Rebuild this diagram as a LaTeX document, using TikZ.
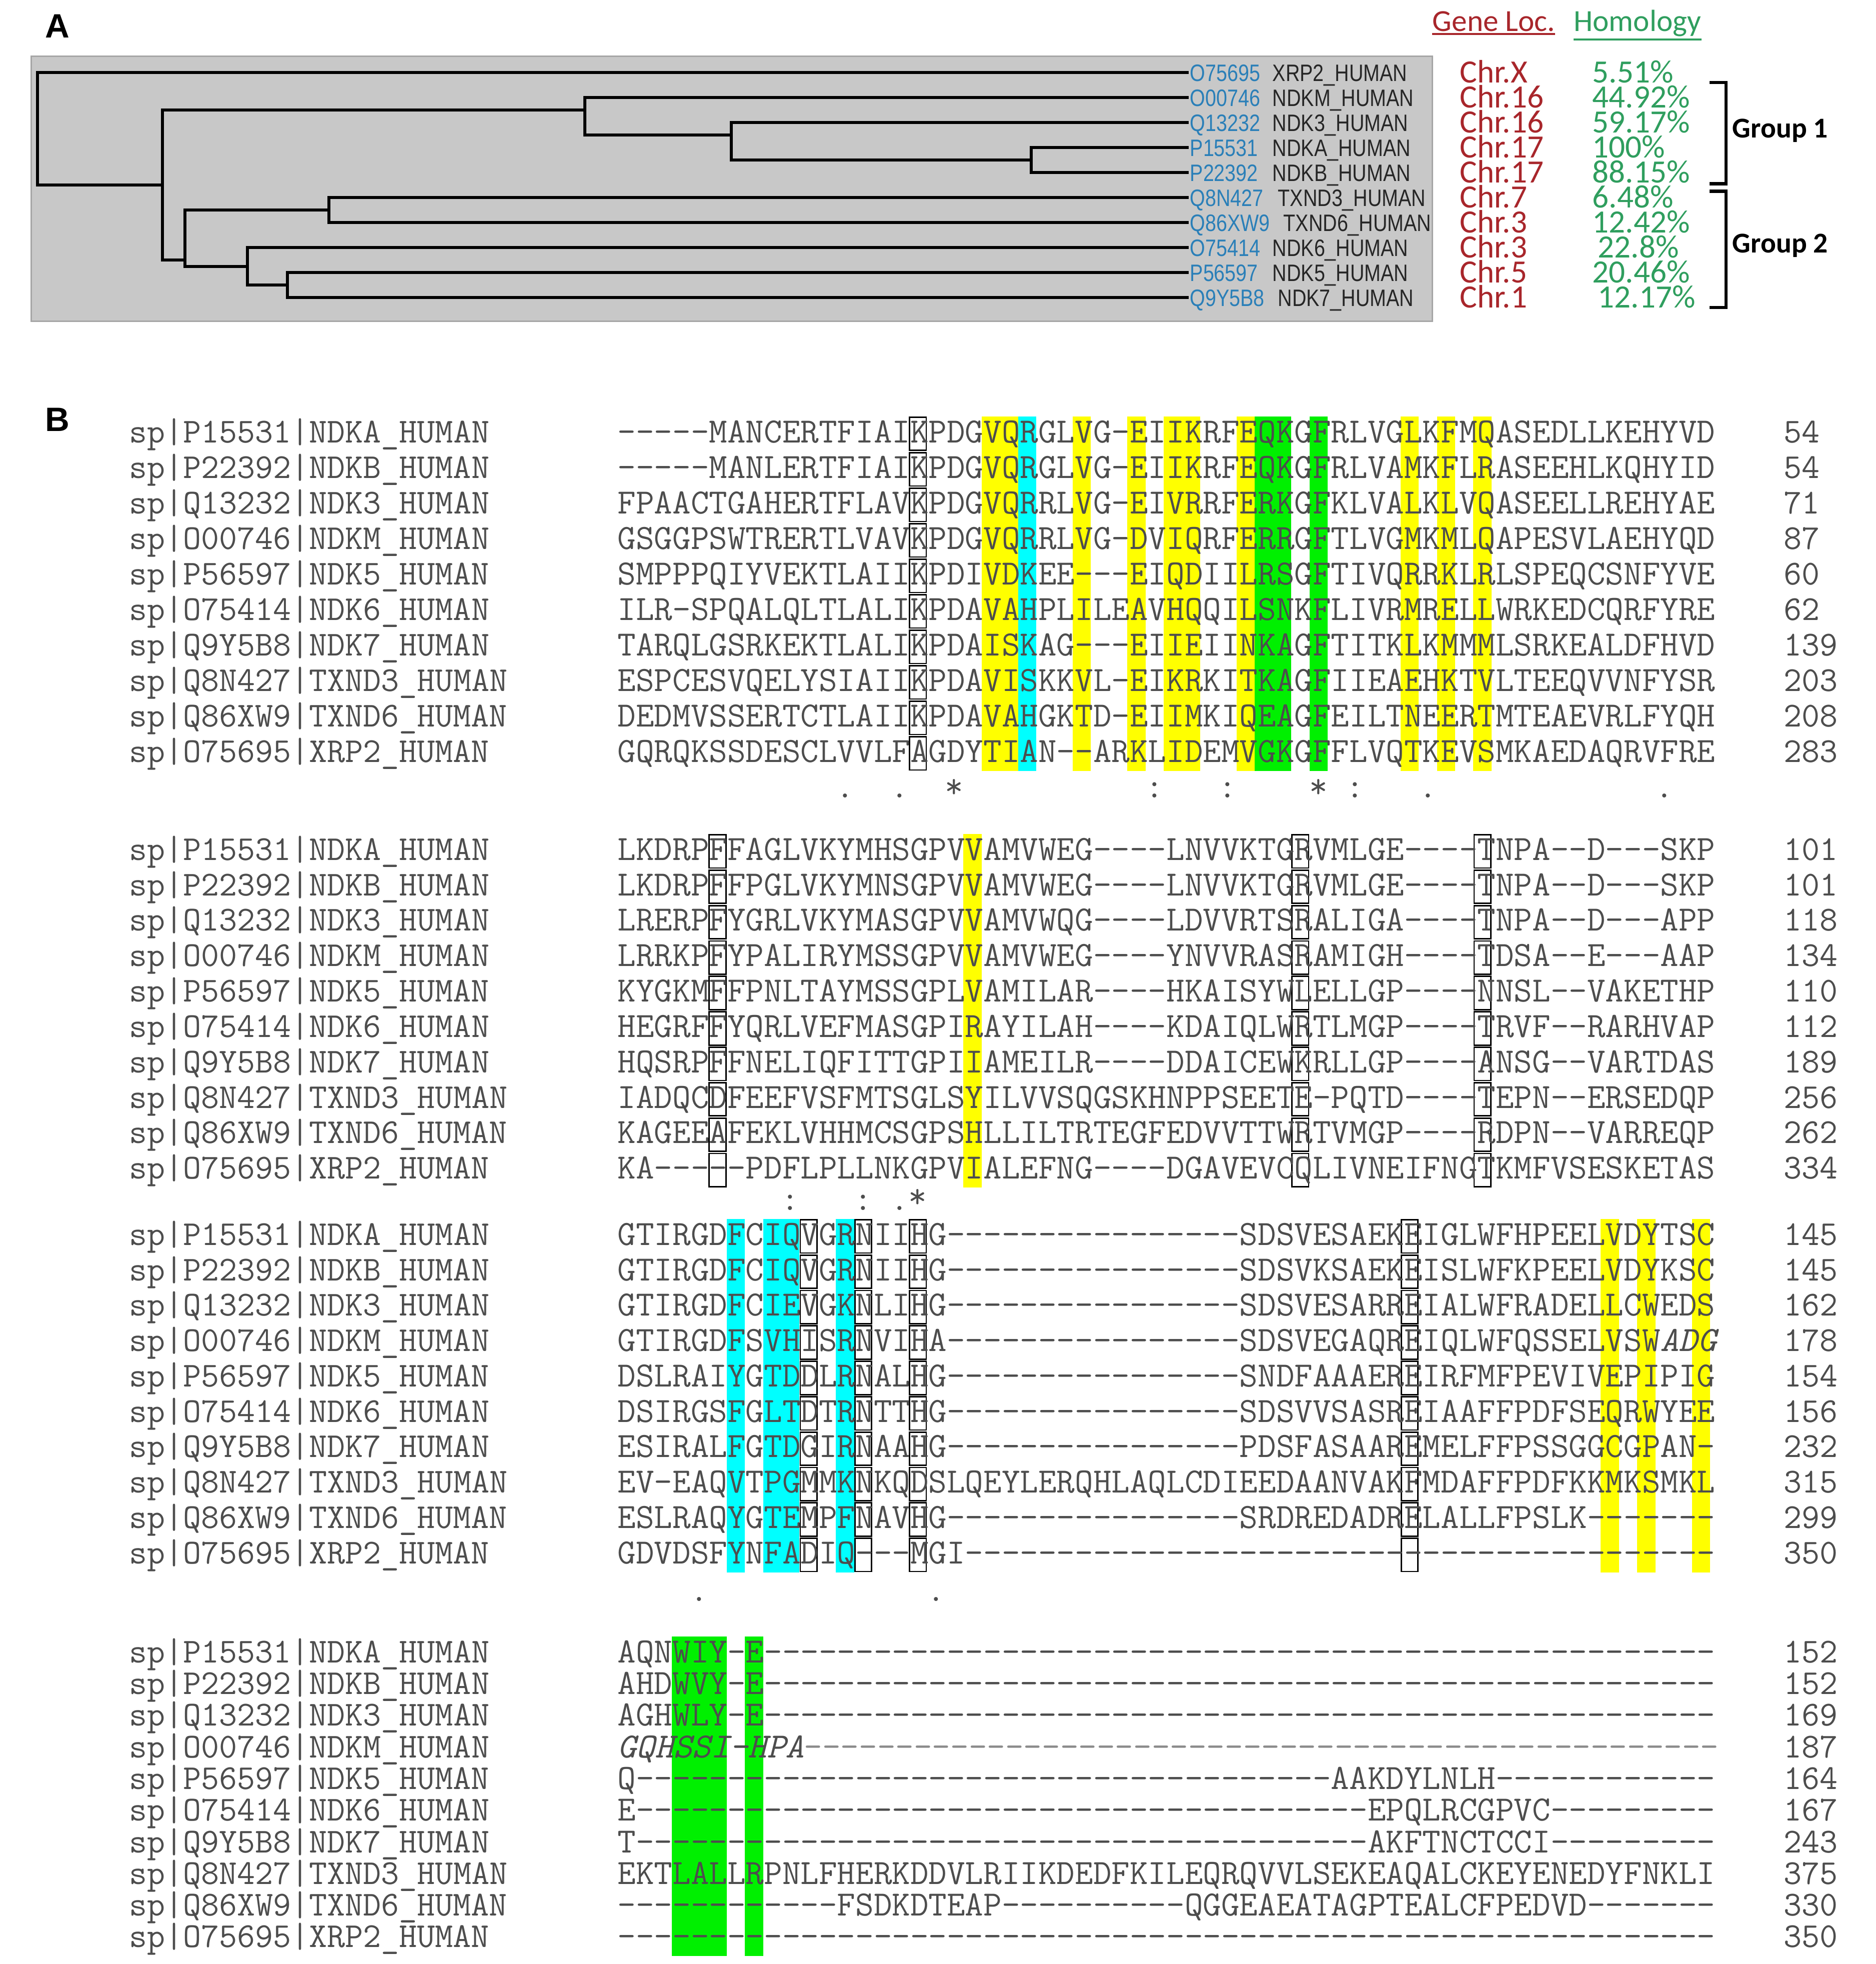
\documentclass[tikz,border=0pt]{standalone}
\usepackage{fontspec}
\newfontfamily\seqf{Latin Modern Mono}
\newfontfamily\arialf{Liberation Sans}
\newfontfamily\calf{Carlito}
\definecolor{seqgray}{HTML}{4D4D4D}
\definecolor{accblue}{HTML}{2A7FB8}
\definecolor{chrred}{HTML}{A8262B}
\definecolor{homgreen}{HTML}{2F9E5E}
\definecolor{panelgray}{HTML}{C8C8C8}
\definecolor{hy}{HTML}{FFFF00}
\definecolor{hc}{HTML}{00FFFF}
\definecolor{hg}{HTML}{00F000}
\def\cw{14.57}
\newcommand\srow[4]{%
  \pgfmathsetmacro\yc{\yz+#1*\dz}%
  \node[lbl] (l\blk#1) at (103,{\yc+7}) {sp|#2};%
  \node[seqt] (s\blk#1) at (494,{\yc+7}) {#3};%
  \node[lbl] (n\blk#1) at (1427,{\yc+7}) {#4};}
\newcommand\cbar[3]{\fill[#1] ({494+\cw*#2},{\yz-14}) rectangle ({494+\cw*(#3+1)},{\yz+9*\dz+14});}
\newcommand\cbox[1]{\foreach \k in {0,...,9}{\draw[bx] ({494+\cw*#1+0.6},{\yz+\k*\dz-13.3}) rectangle ({494+\cw*(#1+1)-0.6},{\yz+\k*\dz+13.3});}}
\newcommand\cons[3]{\node[seqt,anchor=base] at ({494+\cw*(#1+0.5)},{#2}) {#3};}
\newcommand\leaf[4]{%
  \node[acc] (a#1) at (952,{#2+7}) {#3};
  \node[acc,text=black!85] (m#1) at (1018,{#2+7}) {#4};}
\newcommand\info[4]{%
  \node[chr] (c#1) at (1168,{#2+8}) {#3};
  \node[chr,text=homgreen] (h#1) at (1274,{#2+8}) {#4};}
\begin{document}
\begin{tikzpicture}[x=1pt,y=-1pt,
  lbl/.style={anchor=base west,inner sep=0,font=\seqf\fontsize{28.0}{28}\selectfont,text=seqgray},
  seqt/.style={anchor=base west,inner sep=0,font=\seqf\fontsize{28.42}{28}\selectfont,text=seqgray},
  bx/.style={draw=black,line width=1.1pt},
  tree/.style={line width=2.4pt,line cap=rect},
  acc/.style={anchor=base west,inner sep=0,xscale=0.83,transform shape,font=\arialf\fontsize{19}{20}\selectfont,text=accblue},
  chr/.style={anchor=base west,inner sep=0,font=\calf\fontsize{26}{26}\selectfont,text=chrred},
  panlab/.style={anchor=base west,inner sep=0,font=\arialf\bfseries\fontsize{27}{28}\selectfont}]
\useasboundingbox (0,0) rectangle (1501,1571);
% ---------- Panel A ----------
\node[panlab] (A) at (36,30) {A};
\fill[panelgray,draw=black!35,line width=1pt] (25,45) rectangle (1146,257);
\draw[tree] (30,58) -- (30,148);
\draw[tree] (30,58) -- (950,58);
\draw[tree] (30,148) -- (130,148);
\draw[tree] (130,88) -- (130,208);
\draw[tree] (130,88) -- (468,88);
\draw[tree] (130,208) -- (148,208);
\draw[tree] (468,78) -- (468,108);
\draw[tree] (468,78) -- (950,78);
\draw[tree] (468,108) -- (585,108);
\draw[tree] (585,98) -- (585,128);
\draw[tree] (585,98) -- (950,98);
\draw[tree] (585,128) -- (825,128);
\draw[tree] (825,118) -- (825,138);
\draw[tree] (825,118) -- (950,118);
\draw[tree] (825,138) -- (950,138);
\draw[tree] (148,168) -- (148,213);
\draw[tree] (148,168) -- (263,168);
\draw[tree] (148,213) -- (198,213);
\draw[tree] (263,158) -- (263,178);
\draw[tree] (263,158) -- (950,158);
\draw[tree] (263,178) -- (950,178);
\draw[tree] (198,198) -- (198,228);
\draw[tree] (198,198) -- (950,198);
\draw[tree] (198,228) -- (230,228);
\draw[tree] (230,218) -- (230,238);
\draw[tree] (230,218) -- (950,218);
\draw[tree] (230,238) -- (950,238);
\leaf{1}{58}{O75695}{XRP2\_HUMAN}
\leaf{2}{78}{O00746}{NDKM\_HUMAN}
\leaf{3}{98}{Q13232}{NDK3\_HUMAN}
\leaf{4}{118}{P15531}{NDKA\_HUMAN}
\leaf{5}{138}{P22392}{NDKB\_HUMAN}
\leaf{6}{158}{Q8N427}{\ TXND3\_HUMAN}
\leaf{7}{178}{Q86XW9}{\ \ TXND6\_HUMAN}
\leaf{8}{198}{O75414}{NDK6\_HUMAN}
\leaf{9}{218}{P56597}{NDK5\_HUMAN}
\leaf{10}{238}{Q9Y5B8}{\ NDK7\_HUMAN}
\info{1}{58}{Chr.X}{5.51\%}
\info{2}{78}{Chr.16}{44.92\%}
\info{3}{98}{Chr.16}{59.17\%}
\info{4}{118}{Chr.17}{100\%}
\info{5}{138}{Chr.17}{88.15\%}
\info{6}{158}{Chr.7}{6.48\%}
\info{7}{178}{Chr.3}{12.42\%}
\info{8}{198}{Chr.3}{\,22.8\%}
\info{9}{218}{Chr.5}{20.46\%}
\info{10}{238}{Chr.1}{\,12.17\%}
\node[chr,font=\calf\fontsize{24.5}{25}\selectfont] (gl) at (1146,25) {Gene Loc.};
\node[chr,text=homgreen,font=\calf\fontsize{24.5}{25}\selectfont] (hm) at (1259,25) {Homology};
\draw[chrred,line width=1.6pt] ([yshift=-2pt]gl.south west) -- ([yshift=-2pt]gl.south east);
\draw[homgreen,line width=1.6pt] ([yshift=-2pt]hm.south west) -- ([yshift=-2pt]hm.south east);
\draw[line width=2.5pt] (1368,66) -- (1381,66) -- (1381,147) -- (1368,147);
\draw[line width=2.5pt] (1368,153) -- (1381,153) -- (1381,246) -- (1368,246);
\node[chr,text=black,font=\calf\bfseries\fontsize{23}{24}\selectfont] (g1) at (1386,110) {Group 1};
\node[chr,text=black,font=\calf\bfseries\fontsize{23}{24}\selectfont] (g2) at (1386,202) {Group 2};
% ---------- Panel B ----------
\node[panlab] (B) at (36,345) {B};
% Block 1
\def\blk{a}\def\yz{347}\def\dz{28.4}
\foreach \p in {20,21,25,28,30,31,34,43,45,47}{\cbar{hy}{\p}{\p}}
\cbar{hc}{22}{22}
\cbar{hg}{35}{36}\cbar{hg}{38}{38}
\cbox{16}
\srow{0}{P15531|NDKA\_HUMAN}{-----MANCERTFIAIKPDGVQRGLVG-EIIKRFEQKGFRLVGLKFMQASEDLLKEHYVD}{54}
\srow{1}{P22392|NDKB\_HUMAN}{-----MANLERTFIAIKPDGVQRGLVG-EIIKRFEQKGFRLVAMKFLRASEEHLKQHYID}{54}
\srow{2}{Q13232|NDK3\_HUMAN}{FPAACTGAHERTFLAVKPDGVQRRLVG-EIVRRFERKGFKLVALKLVQASEELLREHYAE}{71}
\srow{3}{O00746|NDKM\_HUMAN}{GSGGPSWTRERTLVAVKPDGVQRRLVG-DVIQRFERRGFTLVGMKMLQAPESVLAEHYQD}{87}
\srow{4}{P56597|NDK5\_HUMAN}{SMPPPQIYVEKTLAIIKPDIVDKEE---EIQDIILRSGFTIVQRRKLRLSPEQCSNFYVE}{60}
\srow{5}{O75414|NDK6\_HUMAN}{ILR-SPQALQLTLALIKPDAVAHPLILEAVHQQILSNKFLIVRMRELLWRKEDCQRFYRE}{62}
\srow{6}{Q9Y5B8|NDK7\_HUMAN}{TARQLGSRKEKTLALIKPDAISKAG---EIIEIINKAGFTITKLKMMMLSRKEALDFHVD}{139}
\srow{7}{Q8N427|TXND3\_HUMAN}{ESPCESVQELYSIAIIKPDAVISKKVL-EIKRKITKAGFIIEAEHKTVLTEEQVVNFYSR}{203}
\srow{8}{Q86XW9|TXND6\_HUMAN}{DEDMVSSERTCTLAIIKPDAVAHGKTD-EIIMKIQEAGFEILTNEERTMTEAEVRLFYQH}{208}
\srow{9}{O75695|XRP2\_HUMAN}{GQRQKSSDESCLVVLFAGDYTIAN--ARKLIDEMVGKGFFLVQTKEVSMKAEDAQRVFRE}{283}
\cons{12}{638}{.}\cons{15}{638}{.}\cons{18}{638}{*}\cons{29}{638}{:}\cons{33}{638}{:}
\cons{38}{638}{*}\cons{40}{638}{:}\cons{44}{638}{.}\cons{57}{638}{.}
% Block 2
\def\blk{b}\def\yz{681}\def\dz{28.33}
\cbar{hy}{19}{19}
\cbox{5}\cbox{37}\cbox{47}
\srow{0}{P15531|NDKA\_HUMAN}{LKDRPFFAGLVKYMHSGPVVAMVWEG----LNVVKTGRVMLGE----TNPA--D---SKP}{101}
\srow{1}{P22392|NDKB\_HUMAN}{LKDRPFFPGLVKYMNSGPVVAMVWEG----LNVVKTGRVMLGE----TNPA--D---SKP}{101}
\srow{2}{Q13232|NDK3\_HUMAN}{LRERPFYGRLVKYMASGPVVAMVWQG----LDVVRTSRALIGA----TNPA--D---APP}{118}
\srow{3}{O00746|NDKM\_HUMAN}{LRRKPFYPALIRYMSSGPVVAMVWEG----YNVVRASRAMIGH----TDSA--E---AAP}{134}
\srow{4}{P56597|NDK5\_HUMAN}{KYGKMFFPNLTAYMSSGPLVAMILAR----HKAISYWLELLGP----NNSL--VAKETHP}{110}
\srow{5}{O75414|NDK6\_HUMAN}{HEGRFFYQRLVEFMASGPIRAYILAH----KDAIQLWRTLMGP----TRVF--RARHVAP}{112}
\srow{6}{Q9Y5B8|NDK7\_HUMAN}{HQSRPFFNELIQFITTGPIIAMEILR----DDAICEWKRLLGP----ANSG--VARTDAS}{189}
\srow{7}{Q8N427|TXND3\_HUMAN}{IADQCDFEEFVSFMTSGLSYILVVSQGSKHNPPSEETE-PQTD----TEPN--ERSEDQP}{256}
\srow{8}{Q86XW9|TXND6\_HUMAN}{KAGEEAFEKLVHHMCSGPSHLLILTRTEGFEDVVTTWRTVMGP----RDPN--VARREQP}{262}
\srow{9}{O75695|XRP2\_HUMAN}{KA-----PDFLPLLNKGPVIALEFNG----DGAVEVCQLIVNEIFNGTKMFVSESKETAS}{334}
\cons{9}{968}{:}\cons{13}{968}{:}\cons{15}{968}{.}\cons{16}{966}{*}
% Block 3
\def\blk{c}\def\yz{989}\def\dz{28.3}
\cbar{hc}{6}{6}\cbar{hc}{8}{9}\cbar{hc}{12}{12}
\cbar{hy}{54}{54}\cbar{hy}{56}{56}\cbar{hy}{59}{59}
\cbox{10}\cbox{13}\cbox{16}\cbox{43}
\srow{0}{P15531|NDKA\_HUMAN}{GTIRGDFCIQVGRNIIHG----------------SDSVESAEKEIGLWFHPEELVDYTSC}{145}
\srow{1}{P22392|NDKB\_HUMAN}{GTIRGDFCIQVGRNIIHG----------------SDSVKSAEKEISLWFKPEELVDYKSC}{145}
\srow{2}{Q13232|NDK3\_HUMAN}{GTIRGDFCIEVGKNLIHG----------------SDSVESARREIALWFRADELLCWEDS}{162}
\srow{3}{O00746|NDKM\_HUMAN}{GTIRGDFSVHISRNVIHA----------------SDSVEGAQREIQLWFQSSELVSW\textit{ADG}}{178}
\srow{4}{P56597|NDK5\_HUMAN}{DSLRAIYGTDDLRNALHG----------------SNDFAAAEREIRFMFPEVIVEPIPIG}{154}
\srow{5}{O75414|NDK6\_HUMAN}{DSIRGSFGLTDTRNTTHG----------------SDSVVSASREIAAFFPDFSEQRWYEE}{156}
\srow{6}{Q9Y5B8|NDK7\_HUMAN}{ESIRALFGTDGIRNAAHG----------------PDSFASAAREMELFFPSSGGCGPAN-}{232}
\srow{7}{Q8N427|TXND3\_HUMAN}{EV-EAQVTPGMMKNKQDSLQEYLERQHLAQLCDIEEDAANVAKFMDAFFPDFKKMKSMKL}{315}
\srow{8}{Q86XW9|TXND6\_HUMAN}{ESLRAQYGTEMPFNAVHG----------------SRDREDADRELALLFPSLK-------}{299}
\srow{9}{O75695|XRP2\_HUMAN}{GDVDSFYNFADIQ---MGI-----------------------------------------}{350}
\cons{4}{1281}{.}\cons{17}{1281}{.}
% Block 4
\def\blk{d}\def\yz{1323}\def\dz{25.3}
\cbar{hg}{3}{5}\cbar{hg}{7}{7}
\srow{0}{P15531|NDKA\_HUMAN}{AQNWIY-E----------------------------------------------------}{152}
\srow{1}{P22392|NDKB\_HUMAN}{AHDWVY-E----------------------------------------------------}{152}
\srow{2}{Q13232|NDK3\_HUMAN}{AGHWLY-E----------------------------------------------------}{169}
\srow{3}{O00746|NDKM\_HUMAN}{\textit{GQHSSI-HPA}\color{black!45}--------------------------------------------------}{187}
\srow{4}{P56597|NDK5\_HUMAN}{Q--------------------------------------AAKDYLNLH------------}{164}
\srow{5}{O75414|NDK6\_HUMAN}{E----------------------------------------EPQLRCGPVC---------}{167}
\srow{6}{Q9Y5B8|NDK7\_HUMAN}{T----------------------------------------AKFTNCTCCI---------}{243}
\srow{7}{Q8N427|TXND3\_HUMAN}{EKTLALLRPNLFHERKDDVLRIIKDEDFKILEQRQVVLSEKEAQALCKEYENEDYFNKLI}{375}
\srow{8}{Q86XW9|TXND6\_HUMAN}{------------FSDKDTEAP----------QGGEAEATAGPTEALCFPEDVD-------}{330}
\srow{9}{O75695|XRP2\_HUMAN}{------------------------------------------------------------}{350}
\end{tikzpicture}
\end{document}
